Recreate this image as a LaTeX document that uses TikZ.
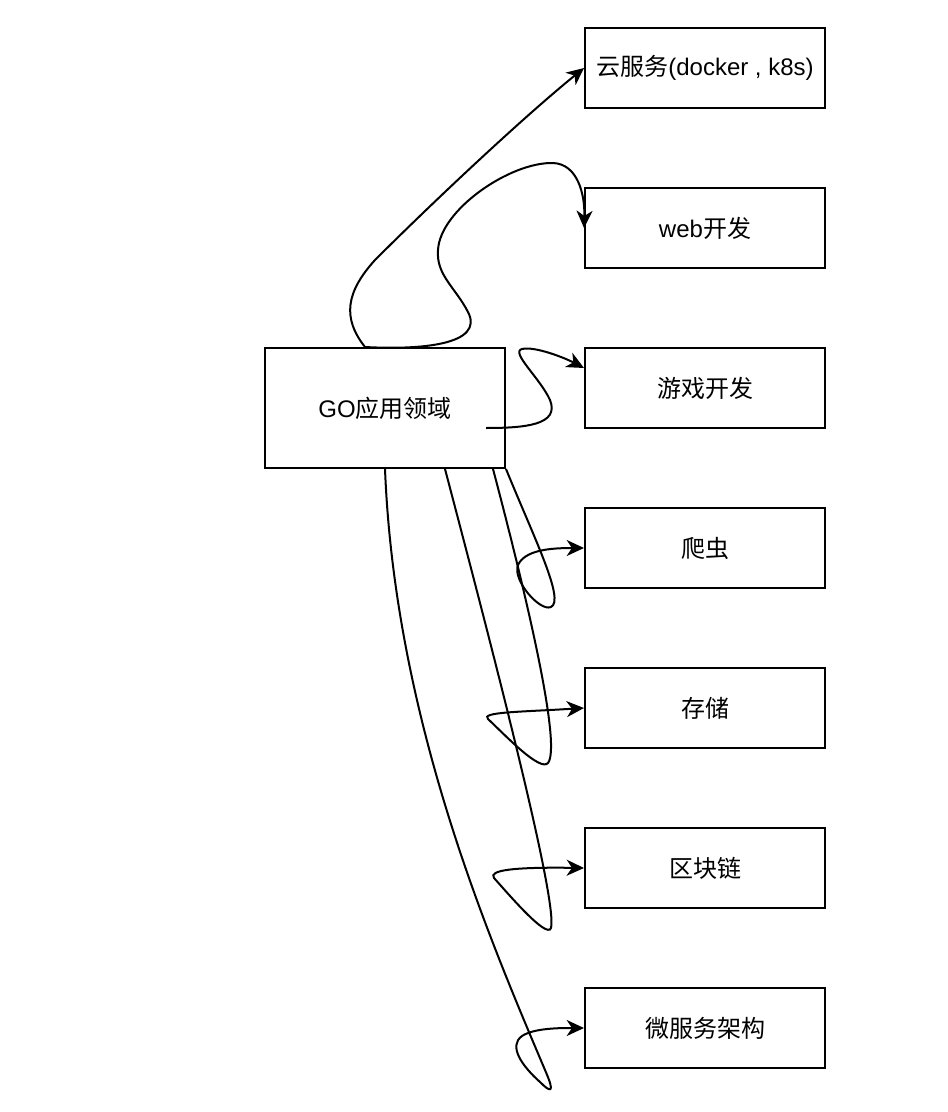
\documentclass[tikz,border=0pt]{standalone}
\usepackage{fontspec}
\setmainfont{Liberation Sans}
\newfontfamily\cjk{Noto Sans CJK SC}
\usepackage{tikz}
\usetikzlibrary{arrows.meta,calc}

\begin{document}
\begin{tikzpicture}[
    x=0.75pt, y=-0.75pt,
    box/.style={draw, line width=1.5pt, minimum width=180pt, minimum height=60pt,
                inner sep=0pt, align=center, font=\fontsize{18}{22}\selectfont},
    rootbox/.style={box, minimum height=90pt},
    conn/.style={-{Stealth[length=13pt, width=12pt, inset=4pt]}, line width=1.5pt},
]
\useasboundingbox (0,0) rectangle (948,1112);

% =============================================
% root node
% =============================================
\node[rootbox] at (385, 408) (go) {GO{\cjk 应用领域}};

% =============================================
% application areas (right column)
% =============================================
\node[box] at (705, 68)   (yun)  {{\cjk 云服务}(docker , k8s)};
\node[box] at (705, 228)  (web)  {web{\cjk 开发}};
\node[box] at (705, 388)  (game) {{\cjk 游戏开发}};
\node[box] at (705, 548)  (pa)   {{\cjk 爬虫}};
\node[box] at (705, 708)  (cun)  {{\cjk 存储}};
\node[box] at (705, 868)  (kuai) {{\cjk 区块链}};
\node[box] at (705, 1028) (wei)  {{\cjk 微服务架构}};

% =============================================
% curved connectors
% =============================================
\draw[conn] ($(go.north)+(-20,0)$)
    .. controls (342,318) and (346,292) .. (375,260)
    .. controls (430,205) and (520,120) .. (yun.west);

\draw[conn] ($(go.north)+(-20,0)$)
    .. controls (420,350) and (485,345) .. (468,312)
    .. controls (455,287) and (436,275) .. (438,250)
    .. controls (440,210) and (510,162) .. (553,163)
    .. controls (578,164) and (585,195) .. (web.west);

\draw[conn] ($(go.east)+(-20,20)$)
    .. controls (525,428) and (560,425) .. (550,400)
    .. controls (540,378) and (510,352) .. (522,349)
    .. controls (535,346) and (565,358) .. ($(game.west)+(0,-20)$);

\draw[conn] (go.south east)
    .. controls (535,540) and (565,600) .. (551,607)
    .. controls (540,612) and (512,580) .. (518,565)
    .. controls (525,550) and (550,548) .. (pa.west);

\draw[conn] ($(go.south east)+(-13,0)$)
    .. controls (525,590) and (562,745) .. (548,763)
    .. controls (540,772) and (505,735) .. (488,719)
    .. controls (480,712) and (520,712) .. (cun.west);

\draw[conn] ($(go.south)+(60,0)$)
    .. controls (490,640) and (558,900) .. (551,928)
    .. controls (547,940) and (505,890) .. (494,878)
    .. controls (488,870) and (515,867) .. (kuai.west);

\draw[conn] (go.south)
    .. controls (395,720) and (490,940) .. (545,1070)
    .. controls (556,1095) and (550,1092) .. (540,1082)
    .. controls (522,1066) and (508,1046) .. (522,1036)
    .. controls (534,1028) and (560,1028) .. (wei.west);

\end{tikzpicture}
\end{document}
